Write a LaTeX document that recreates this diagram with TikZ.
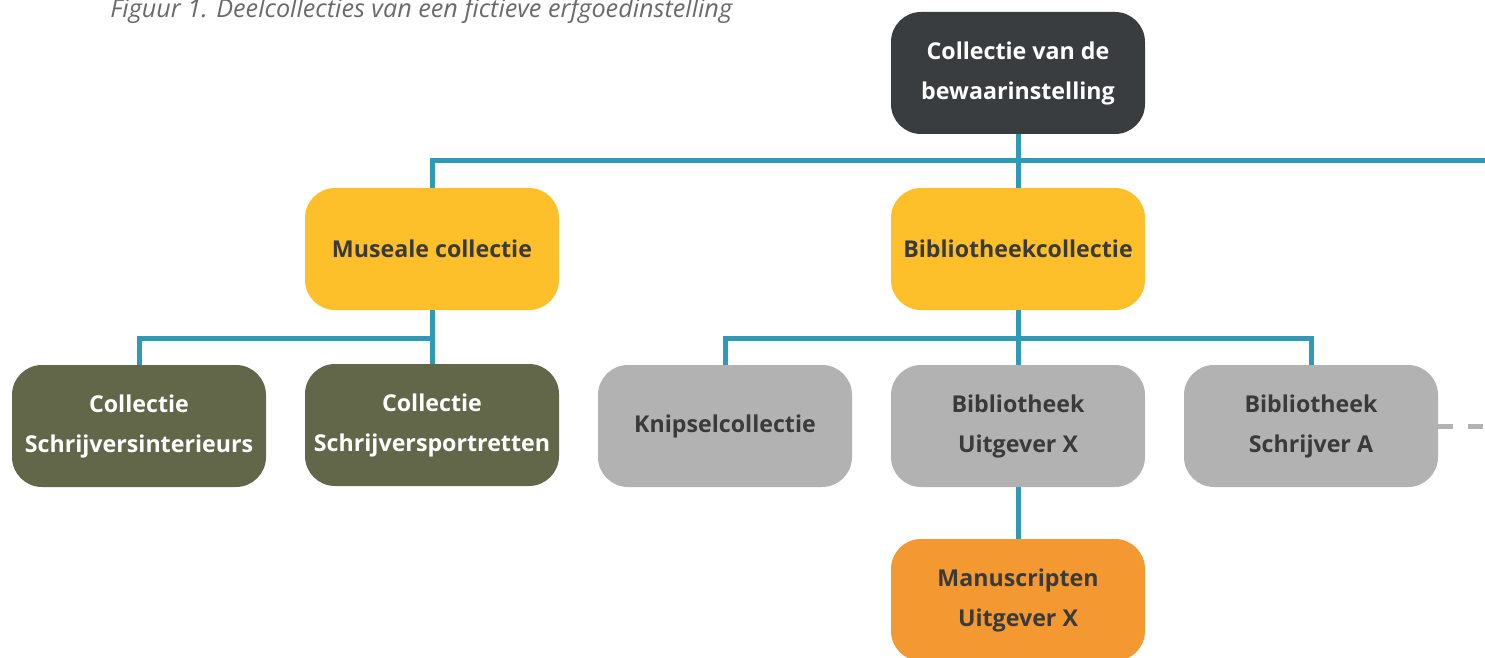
\documentclass[tikz,border=0pt]{standalone}
\usepackage{fontspec}
\setmainfont{Open Sans}
\usepackage{tikz}
\usetikzlibrary{positioning}

\definecolor{darkbox}{HTML}{3A3D40}
\definecolor{yellowbox}{HTML}{FDC02A}
\definecolor{olivebox}{HTML}{63674A}
\definecolor{greybox}{HTML}{B1B2B1}
\definecolor{orangebox}{HTML}{F49831}
\definecolor{linkblue}{HTML}{2F9AB5}
\definecolor{boxtext}{HTML}{3A3A3A}
\definecolor{captiongrey}{HTML}{6A6A6A}

\tikzset{
  coll/.style={rounded corners=15pt, minimum width=127pt, minimum height=61pt,
    align=center, inner sep=0pt, text=boxtext,
    font=\fontsize{11.6}{20}\selectfont\bfseries},
  link/.style={draw=linkblue, line width=2.5pt},
}

\begin{document}
\begin{tikzpicture}[x=0.5pt,y=-0.5pt]
\useasboundingbox (0,0) rectangle (1485,658);
\begin{scope}
\clip (0,0) rectangle (1485,658);
\node[anchor=base west, text=captiongrey, inner sep=0pt, font=\fontsize{12.6}{15}\selectfont\itshape] (caption) at (110,18) {Figuur 1. Deelcollecties van een fictieve erfgoedinstelling};

\node[coll, fill=darkbox, text=white] (top) at (1018,73) {Collectie van de\\bewaarinstelling};
\node[coll, fill=yellowbox] (mus) at (432,249) {Museale collectie};
\node[coll, fill=yellowbox] (bib) at (1018,249) {Bibliotheekcollectie};
\node[coll, fill=olivebox, text=white] (int) at (139,426) {Collectie\\Schrijversinterieurs};
\node[coll, fill=olivebox, text=white] (por) at (432,425) {Collectie\\Schrijversportretten};
\node[coll, fill=greybox] (kni) at (725,426) {Knipselcollectie};
\node[coll, fill=greybox] (bux) at (1018,426) {Bibliotheek\\Uitgever X};
\node[coll, fill=greybox] (bsa) at (1311,426) {Bibliotheek\\Schrijver A};
\node[coll, fill=orangebox] (man) at (1018,600) {Manuscripten\\Uitgever X};
\end{scope}

\coordinate (railEnd) at (1485,161);
\coordinate (jm) at (432,338);
\coordinate (jb) at (1018,338);
\coordinate (dashEnd) at (1485,426);

% connectors
\path[link] (top.south) -- (bib.north);
\path[link] (mus.north) |- (railEnd);
\path[link] (mus.south) -- (por.north);
\path[link] (int.north) |- (jm);
\path[link] (bib.south) -- (bux.north);
\path[link] (kni.north) |- (jb) -| (bsa.north);
\path[link] (bux.south) -- (man.north);
\draw[greybox, line width=2.5pt, dash pattern=on 7.5pt off 7.5pt] (bsa.east) -- (dashEnd);
\end{tikzpicture}
\end{document}
